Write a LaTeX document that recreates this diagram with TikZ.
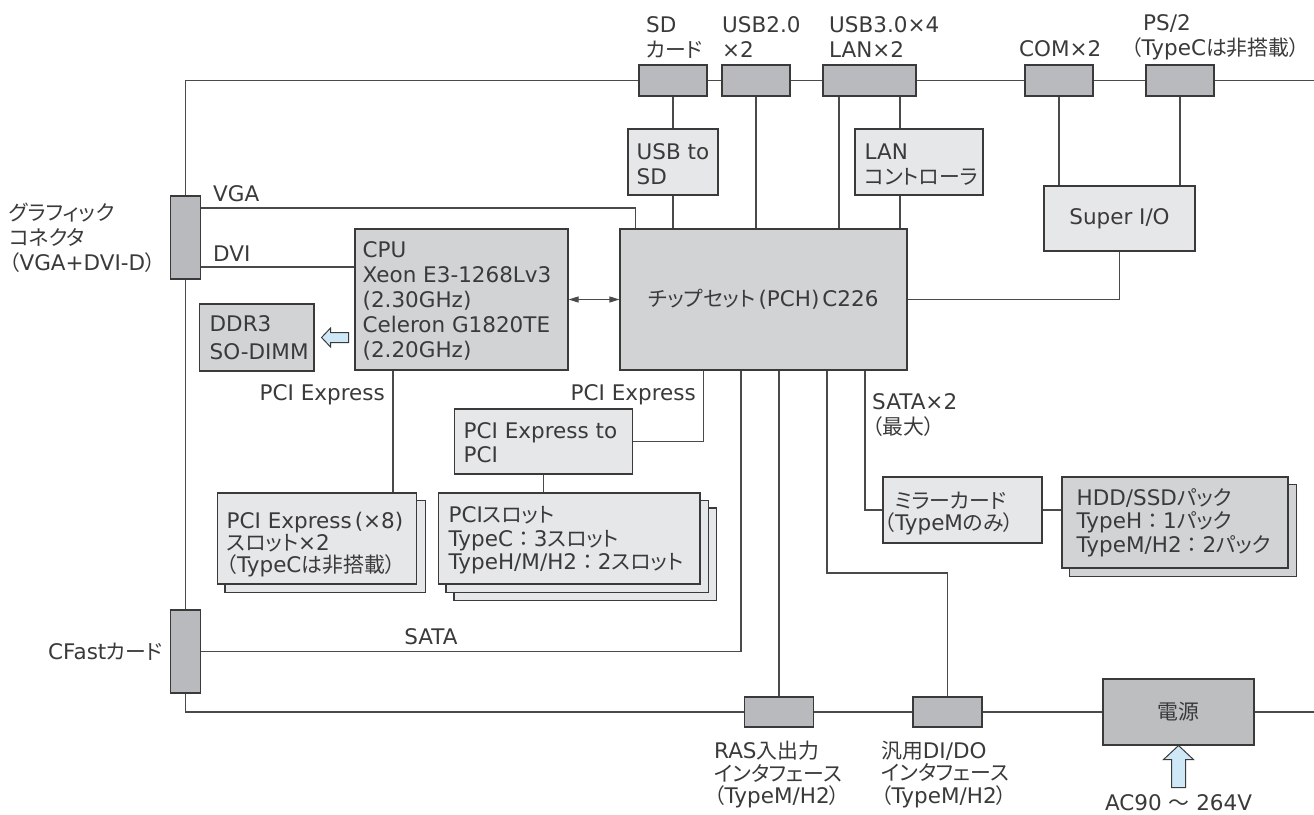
\documentclass[tikz,border=0pt]{standalone}
\usepackage{fontspec}
\setmainfont{DejaVu Sans}
\newfontfamily\jpf[Scale=0.97,RawFeature={+palt}]{Noto Sans CJK JP}
\newfontfamily\jpw[Scale=0.97]{Noto Sans CJK JP}
\newcommand{\jp}[1]{{\jpf #1}}
\newcommand{\jcol}{{\jpw ：}}
\usetikzlibrary{arrows.meta,backgrounds,calc}
\definecolor{conn}{HTML}{B9BABD}
\definecolor{midg}{HTML}{D1D3D4}
\definecolor{lightg}{HTML}{E6E7E8}
\definecolor{pwr}{HTML}{BCBEC0}
\definecolor{ablue}{HTML}{CFE8F7}
\definecolor{edge}{HTML}{3A3A3A}
\definecolor{wirec}{HTML}{4A4A4A}
\definecolor{txt}{HTML}{3A3A3A}
\begin{document}
\begin{tikzpicture}[x=1pt,y=-1pt,
  every node/.style={font=\fontsize{21.5}{25}\selectfont, text=txt},
  wire/.style={draw=wirec, line width=1.1pt},
  conbox/.style={draw=edge, line width=1.1pt, fill=conn, inner sep=0pt},
  mbox/.style={draw=edge, line width=1.1pt, fill=midg, inner sep=0pt},
  lbox/.style={draw=edge, line width=1.1pt, fill=lightg, inner sep=0pt},
  pbox/.style={draw=edge, line width=1.1pt, fill=pwr, inner sep=0pt},
  shlight/.style={draw=edge, line width=1.1pt, fill=lightg},
  shmid/.style={draw=edge, line width=1.1pt, fill=midg},
  lab/.style={anchor=west, align=left, inner sep=0pt},
  dblarrow/.style={{Triangle[length=10pt,width=6pt]}-{Triangle[length=10pt,width=6pt]}},
  hollow/.style={fill=ablue, draw=edge, line width=1pt, line join=miter}
]
\useasboundingbox (0,0) rectangle (1314,814);

% ---- bus corners
\coordinate (tl) at (185.5,80.5);
\coordinate (tr) at (1314,80.5);
\coordinate (bl) at (185.5,712);
\coordinate (br) at (1314,712);
\coordinate (dbend) at (827,573);

% ---- connectors
\node[conbox, minimum width=68pt, minimum height=31pt] (sdc) at (673,80.5) {};
\node[conbox, minimum width=68pt, minimum height=31pt] (usb2c) at (756,80.5) {};
\node[conbox, minimum width=93pt, minimum height=31pt] (usb3c) at (869.5,80.5) {};
\node[conbox, minimum width=68pt, minimum height=31pt] (comc) at (1059,80.5) {};
\node[conbox, minimum width=68pt, minimum height=31pt] (ps2c) at (1180,80.5) {};
\node[conbox, minimum width=30pt, minimum height=83pt] (gfx) at (185.5,237.5) {};
\node[conbox, minimum width=30pt, minimum height=83pt] (cfast) at (185.5,651.5) {};
\node[conbox, minimum width=68.5pt, minimum height=30pt] (ras) at (779,712) {};
\node[conbox, minimum width=69pt, minimum height=30pt] (dido) at (947.5,712) {};

% ---- boxes
\node[lbox, minimum width=90pt, minimum height=66pt] (usbsd) at (673,162) {};
\node[lbox, minimum width=128pt, minimum height=66pt] (lan) at (919,162) {};
\node[lbox, minimum width=151pt, minimum height=65pt] (sio) at (1119.5,218.5) {Super I/O};
\node[mbox, minimum width=213pt, minimum height=141pt] (cpu) at (461.5,299.5) {};
\node[mbox, minimum width=287pt, minimum height=141pt] (pch) at (763.5,299.5) {\jp{チップセット}\kern3pt(PCH)\kern3pt C226};
\node[mbox, minimum width=114.5pt, minimum height=67pt] (ddr) at (256.75,337.5) {};
\node[lbox, minimum width=178pt, minimum height=65pt] (p2p) at (543.5,441.5) {};
\node[lbox, minimum width=199pt, minimum height=91pt] (pcies) at (317,538.5) {};
\node[lbox, minimum width=261.5pt, minimum height=91pt] (pcis) at (569.25,538.5) {};
\node[lbox, minimum width=159pt, minimum height=66pt] (mirror) at (962.5,510) {};
\node[mbox, minimum width=226pt, minimum height=91pt] (hdd) at (1175,522.5) {};
\node[pbox, minimum width=151pt, minimum height=66pt] (power) at (1178.5,712) {\jp{電源}};

% ---- texts in boxes
\node[lab] (usbsdt) at ([xshift=9pt,yshift=-2.5pt]usbsd.west) {USB to\\SD};
\node[lab] (lant) at ([xshift=10pt,yshift=-2.5pt]lan.west) {LAN\\\jp{コントローラ}};
\node[lab] (cput) at ([xshift=8pt,yshift=-1.5pt]cpu.west) {CPU\\Xeon E3-1268Lv3\\(2.30GHz)\\Celeron G1820TE\\(2.20GHz)};
\node[lab, font=\fontsize{21.5}{28}\selectfont] (ddrt) at ([xshift=10.5pt]ddr.west) {DDR3\\SO-DIMM};
\node[lab, font=\fontsize{21.5}{24}\selectfont] (p2pt) at ([xshift=9.5pt,yshift=-1.5pt]p2p.west) {PCI Express to\\PCI};
\node[lab, font=\fontsize{21.5}{22}\selectfont] (pciest) at ([xshift=9.5pt,yshift=-6pt]pcies.west) {PCI Express\kern3pt(×8)\\\jp{スロット}×2\\\jp{（}TypeC\jp{は非搭載）}};
\node[lab, font=\fontsize{21.5}{23.5}\selectfont] (pcist) at ([xshift=10.5pt,yshift=-2pt]pcis.west) {PCI\jp{スロット}\\TypeC\jcol 3\jp{スロット}\\TypeH/M/H2\jcol 2\jp{スロット}};
\node[lab, font=\fontsize{21.5}{22}\selectfont] (mirrort) at ([xshift=2pt,yshift=-4pt]mirror.west) {\hspace*{10pt}\jp{ミラーカード}\\\jp{（}TypeM\jp{のみ）}};
\node[lab, font=\fontsize{21.5}{23.5}\selectfont] (hddt) at ([xshift=15pt]hdd.west) {HDD/SSD\jp{パック}\\TypeH\jcol 1\jp{パック}\\TypeM/H2\jcol 2\jp{パック}};

% ---- outside labels
\node[lab] (sdl) at (646,37.5) {SD\\\jp{カード}};
\node[lab] (usb2l) at (722,37.5) {USB2.0\\×2};
\node[lab] (usb3l) at (829,37.5) {USB3.0×4\\LAN×2};
\node[lab] (coml) at (1019,49) {COM×2};
\node[lab] (ps2l) at (1131,37.5) {\hspace*{12pt}PS/2\\\jp{（}TypeC\jp{は非搭載）}};
\node[lab] (gfxl) at (9,238) {\jp{グラフィック}\\\jp{コネクタ}\\\jp{（}VGA+DVI-D\jp{）}};
\node[lab] (vgal) at (213,194) {VGA};
\node[lab] (dvil) at (213,254) {DVI};
\node[lab, anchor=east] (pcil1) at (385,395) {PCI Express};
\node[lab, anchor=east] (pcil2) at (696,395) {PCI Express};
\node[lab, anchor=center] (satal) at (431,637) {SATA};
\node[lab] (cfastl) at (48,652) {CFast\jp{カード}};
\node[lab] (sata2l) at (872,415.5) {SATA×2\\\jp{（最大）}};
\node[lab, font=\fontsize{21.5}{22.5}\selectfont] (rasl) at (714,774.5) {RAS\jp{入出力}\\\jp{インタフェース}\\\jp{（}TypeM/H2\jp{）}};
\node[lab, font=\fontsize{21.5}{22.5}\selectfont] (didol) at (881,774.5) {\jp{汎用}DI/DO\\\jp{インタフェース}\\\jp{（}TypeM/H2\jp{）}};
\node[lab, anchor=center] (acl) at (1178.5,803) {AC90 \jp{～} 264V};

% ---- arrows
\draw[wire, dblarrow] (cpu.east) -- (pch.west);
\filldraw[hollow] ([xshift=7pt]ddr.east) -- ++(9,-9.5) -- ++(0,4.5) -- ++(18,0) -- ++(0,10) -- ++(-18,0) -- ++(0,4.5) -- cycle;
\filldraw[hollow] (power.south) -- ++(15,14) -- ++(-8,0) -- ++(0,28) -- ++(-14,0) -- ++(0,-28) -- ++(-8,0) -- cycle;

% ---- background: shadows and wires
\begin{pgfonlayer}{background}
\fill[white] (0,0) rectangle (1314,814);
\filldraw[shlight] ([shift={(8,8)}]pcies.north west) rectangle ([shift={(8,8)}]pcies.south east);
\filldraw[shlight] ([shift={(16,15.5)}]pcis.north west) rectangle ([shift={(16,15.5)}]pcis.south east);
\filldraw[shlight] ([shift={(8,8)}]pcis.north west) rectangle ([shift={(8,8)}]pcis.south east);
\filldraw[shmid] ([shift={(8,8)}]hdd.north west) rectangle ([shift={(8,8)}]hdd.south east);

\draw[wire] (tr) -- (tl) -- (bl) -- (br);
\draw[wire] ([yshift=29.5pt]gfx.east) -| ([xshift=16pt]pch.north west);
\draw[wire] ([yshift=-29.5pt]gfx.east) coordinate (dv) -- (dv -| cpu.west);
\draw[wire] (sdc.south) -- (usbsd.north);
\draw[wire] (usbsd.south) -- (usbsd.south |- pch.north);
\draw[wire] (usb2c.south) -- (usb2c.south |- pch.north);
\draw[wire] ([xshift=-30.5pt]usb3c.south) coordinate (u3) -- (u3 |- pch.north);
\draw[wire] ([xshift=30.5pt]usb3c.south) coordinate (u4) -- (u4 |- lan.north);
\draw[wire] (u4 |- lan.south) -- (u4 |- pch.north);
\draw[wire] (comc.south) -- (comc.south |- sio.north);
\draw[wire] (ps2c.south) -- (ps2c.south |- sio.north);
\draw[wire] (pch.east) -| (sio.south);
\draw[wire] ([xshift=-68.5pt]cpu.south) coordinate (c1) -- (c1 |- pcies.north);
\draw[wire] ([xshift=-60pt]pch.south) |- (p2p.east);
\draw[wire] (p2p.south) -- (p2p.south |- pcis.north);
\draw[wire] (cfast.east) -| ([xshift=-22.5pt]pch.south);
\draw[wire] (ras.north |- pch.south) -- (ras.north);
\draw[wire] ([xshift=63.5pt]pch.south) -- (dbend) -| (dido.north);
\draw[wire] ([xshift=101.5pt]pch.south) |- (mirror.west);
\draw[wire] (mirror.east) -- (mirror.east -| hdd.west);
\end{pgfonlayer}
\end{tikzpicture}
\end{document}
